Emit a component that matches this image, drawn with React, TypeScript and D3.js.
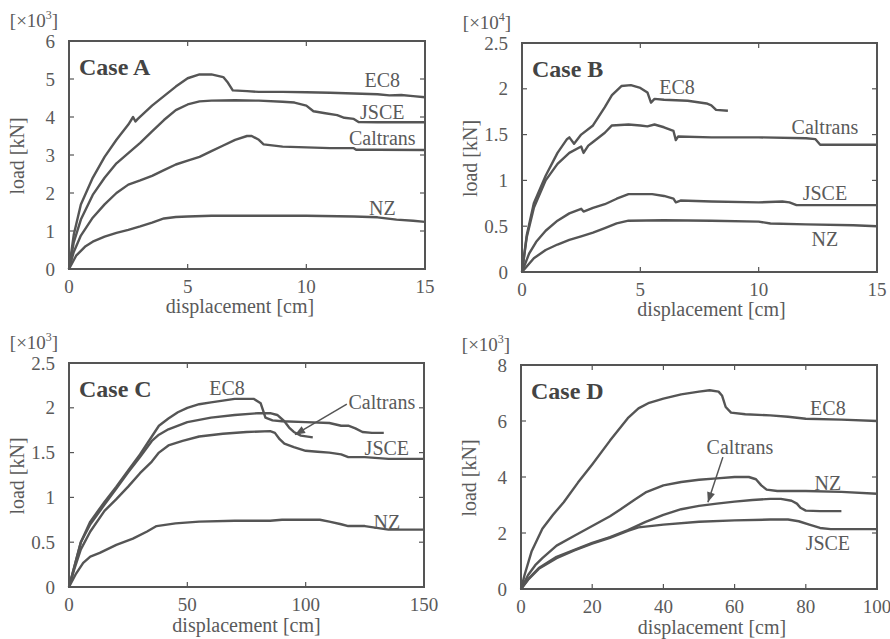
import React from "react";
import * as d3 from "d3";

type Pt = [number, number];

// ---- Case A (load x10^3 kN) ----
const caseA_EC8: Pt[] = [[0,0],[0.2,0.9],[0.5,1.7],[1,2.4],[1.5,2.95],[2,3.4],[2.5,3.8],[2.7,4.0],[2.8,3.88],[2.9,3.95],[3.5,4.3],[4,4.55],[4.5,4.8],[5,5.02],[5.5,5.12],[6,5.12],[6.5,5.05],[6.7,4.9],[6.9,4.7],[7.5,4.68],[8,4.66],[9,4.66],[10,4.65],[11,4.64],[12,4.62],[13,4.6],[13.5,4.57],[14,4.58],[14.5,4.55],[15,4.52]];
const caseA_JSCE: Pt[] = [[0,0],[0.2,0.7],[0.5,1.3],[1,1.95],[1.5,2.4],[2,2.78],[2.5,3.05],[3,3.32],[3.5,3.62],[4,3.92],[4.5,4.18],[5,4.33],[5.5,4.41],[6,4.43],[7,4.44],[8,4.43],[9,4.4],[9.5,4.38],[10,4.3],[10.3,4.15],[10.8,4.1],[11.3,4.05],[11.6,3.98],[12,3.95],[12.2,3.87],[13,3.86],[15,3.86]];
const caseA_Caltrans: Pt[] = [[0,0],[0.2,0.45],[0.5,0.88],[1,1.35],[1.5,1.7],[2,2.0],[2.5,2.22],[3,2.33],[3.5,2.45],[4,2.6],[4.5,2.75],[5,2.85],[5.5,2.95],[6,3.1],[6.5,3.25],[7,3.4],[7.5,3.5],[7.7,3.5],[8,3.4],[8.2,3.28],[9,3.22],[10,3.2],[11,3.18],[12,3.18],[12.1,3.14],[13,3.14],[15,3.13]];
const caseA_NZ: Pt[] = [[0,0],[0.3,0.35],[0.7,0.6],[1,0.72],[1.5,0.85],[2,0.95],[2.5,1.03],[3,1.12],[3.5,1.22],[4,1.33],[4.5,1.37],[5,1.38],[6,1.4],[7,1.4],[8,1.4],[10,1.4],[12,1.38],[13,1.36],[13.8,1.3],[14.5,1.27],[15,1.24]];

// ---- Case B (load x10^4 kN) ----
const caseB_EC8: Pt[] = [[0,0],[0.2,0.4],[0.5,0.75],[1,1.05],[1.5,1.3],[1.9,1.45],[2,1.47],[2.2,1.4],[2.5,1.5],[3,1.6],[3.5,1.8],[3.8,1.93],[4.2,2.03],[4.6,2.04],[5,2.01],[5.3,1.96],[5.45,1.85],[5.6,1.89],[6,1.88],[7,1.87],[7.8,1.84],[8.0,1.82],[8.2,1.77],[8.7,1.76]];
const caseB_Caltrans: Pt[] = [[0,0],[0.2,0.38],[0.5,0.7],[1,1.0],[1.5,1.18],[2,1.3],[2.5,1.37],[2.6,1.3],[2.8,1.38],[3,1.42],[3.5,1.52],[3.8,1.6],[4.5,1.61],[5,1.6],[5.3,1.59],[5.6,1.61],[6,1.58],[6.4,1.54],[6.5,1.44],[6.6,1.48],[8,1.47],[10,1.47],[12,1.46],[12.4,1.45],[12.6,1.39],[15,1.39]];
const caseB_JSCE: Pt[] = [[0,0],[0.3,0.2],[0.6,0.33],[1,0.45],[1.5,0.56],[2,0.64],[2.5,0.69],[2.6,0.66],[3,0.7],[3.5,0.74],[4,0.8],[4.5,0.85],[5.5,0.85],[6,0.83],[6.4,0.8],[6.5,0.76],[6.7,0.78],[8,0.77],[10,0.76],[11,0.77],[11.3,0.76],[11.6,0.73],[13,0.73],[15,0.73]];
const caseB_NZ: Pt[] = [[0,0],[0.5,0.15],[1,0.24],[1.5,0.3],[2,0.35],[2.5,0.39],[3,0.43],[3.5,0.48],[4,0.53],[4.5,0.56],[6,0.565],[8,0.56],[10,0.55],[10.5,0.53],[12,0.52],[14,0.51],[15,0.5]];

// ---- Case C (load x10^3 kN) ----
const caseC_EC8: Pt[] = [[0,0],[2,0.2],[5,0.5],[9,0.73],[15,0.95],[20,1.12],[25,1.3],[30,1.48],[35,1.68],[38,1.8],[42,1.88],[46,1.95],[50,2.0],[55,2.04],[60,2.06],[65,2.08],[70,2.1],[75,2.1],[78,2.1],[81,2.05],[82,1.97],[83,1.89],[86,1.86],[90,1.85],[100,1.84],[110,1.83],[115,1.8],[118,1.8],[121,1.77],[124,1.73],[128,1.72],[133,1.72]];
const caseC_Caltrans: Pt[] = [[0,0],[2,0.2],[5,0.5],[9,0.7],[15,0.92],[20,1.1],[25,1.28],[30,1.45],[35,1.63],[38,1.7],[42,1.76],[50,1.84],[60,1.89],[70,1.92],[80,1.94],[85,1.94],[88,1.92],[91,1.85],[93,1.78],[95,1.73],[98,1.69],[103,1.67]];
const caseC_JSCE: Pt[] = [[0,0],[2,0.18],[5,0.42],[9,0.62],[15,0.85],[20,0.98],[25,1.12],[30,1.27],[35,1.4],[38,1.5],[42,1.58],[48,1.63],[55,1.68],[65,1.71],[75,1.73],[85,1.74],[87,1.72],[89,1.65],[91,1.6],[95,1.56],[100,1.52],[105,1.51],[110,1.5],[115,1.48],[118,1.45],[125,1.45],[135,1.43],[140,1.43],[150,1.43]];
const caseC_NZ: Pt[] = [[0,0],[3,0.15],[6,0.27],[9,0.34],[13,0.38],[20,0.47],[27,0.54],[33,0.62],[37,0.68],[45,0.71],[55,0.73],[70,0.74],[80,0.74],[85,0.74],[90,0.75],[100,0.75],[106,0.75],[110,0.73],[115,0.7],[118,0.68],[125,0.68],[130,0.66],[135,0.64],[145,0.64],[150,0.64]];

// ---- Case D (load x10^3 kN) ----
const caseD_EC8: Pt[] = [[0,0],[1,0.5],[3,1.35],[6,2.15],[9,2.65],[12,3.1],[16,3.8],[20,4.45],[25,5.3],[30,6.1],[33,6.45],[36,6.65],[40,6.8],[45,6.95],[50,7.05],[53,7.1],[55.5,7.05],[56.5,6.9],[57.5,6.5],[59,6.3],[63,6.24],[70,6.2],[75,6.15],[80,6.08],[90,6.05],[100,6.0]];
const caseD_NZ: Pt[] = [[0,0],[2,0.5],[4,0.85],[6,1.1],[10,1.55],[15,1.9],[20,2.25],[25,2.6],[28,2.85],[32,3.2],[35,3.45],[40,3.7],[45,3.82],[50,3.9],[55,3.95],[60,4.0],[64,4.0],[66,3.92],[67.5,3.7],[69,3.55],[72,3.5],[80,3.5],[90,3.47],[100,3.4]];
const caseD_Caltrans: Pt[] = [[0,0],[2,0.35],[5,0.75],[10,1.15],[15,1.4],[20,1.65],[25,1.85],[30,2.1],[35,2.4],[40,2.65],[45,2.85],[50,2.97],[55,3.05],[60,3.12],[65,3.18],[70,3.22],[73,3.22],[76,3.15],[77.5,3.05],[78.5,2.9],[80,2.8],[84,2.78],[90,2.78]];
const caseD_JSCE: Pt[] = [[0,0],[2,0.33],[5,0.72],[10,1.1],[15,1.38],[20,1.62],[25,1.83],[30,2.08],[33,2.2],[40,2.3],[50,2.4],[60,2.45],[70,2.48],[75,2.48],[78,2.42],[81,2.3],[84,2.18],[87,2.14],[100,2.14]];

// ticks
const xTicksAB = [0, 5, 10, 15];
const xTicksC = [0, 50, 100, 150];
const xTicksD = [0, 20, 40, 60, 80, 100];
const yTicksA = [0, 1, 2, 3, 4, 5, 6];
const yTicksBC = [0, 0.5, 1, 1.5, 2, 2.5];
const yTicksD = [0, 2, 4, 6, 8];

const LINE = "#555";
const TEXT = "#5a5a5a";
const FONT = '"Liberation Serif", "Times New Roman", Times, "DejaVu Serif", serif';

type Label = { text: string; x: number; y: number };
type Arrow = { from: Pt; to: Pt };

type Panel = {
  name: string;
  exp: string;
  box: { l: number; t: number; r: number; b: number };
  xDomain: [number, number];
  yDomain: [number, number];
  xTicks: number[];
  yTicks: number[];
  series: Pt[][];
  labels: Label[];
  arrow?: Arrow;
  titleDx: number;
  titleDy: number;
};

const panels: Panel[] = [
  {
    name: "Case A", exp: "3",
    box: { l: 69, t: 41, r: 425, b: 269 },
    xDomain: [0, 15], yDomain: [0, 6], xTicks: xTicksAB, yTicks: yTicksA,
    series: [caseA_EC8, caseA_JSCE, caseA_Caltrans, caseA_NZ],
    labels: [
      { text: "EC8", x: 13.2, y: 4.97 },
      { text: "JSCE", x: 13.2, y: 4.13 },
      { text: "Caltrans", x: 13.2, y: 3.45 },
      { text: "NZ", x: 13.2, y: 1.6 },
    ],
    titleDx: -7, titleDy: 44,
  },
  {
    name: "Case B", exp: "4",
    box: { l: 522, t: 43, r: 877, b: 272 },
    xDomain: [0, 15], yDomain: [0, 2.5], xTicks: xTicksAB, yTicks: yTicksBC,
    series: [caseB_EC8, caseB_Caltrans, caseB_JSCE, caseB_NZ],
    labels: [
      { text: "EC8", x: 6.55, y: 2.02 },
      { text: "Caltrans", x: 12.8, y: 1.58 },
      { text: "JSCE", x: 12.8, y: 0.86 },
      { text: "NZ", x: 12.8, y: 0.36 },
    ],
    titleDx: 12, titleDy: 44,
  },
  {
    name: "Case C", exp: "3",
    box: { l: 69, t: 363, r: 424, b: 587 },
    xDomain: [0, 150], yDomain: [0, 2.5], xTicks: xTicksC, yTicks: yTicksBC,
    series: [caseC_EC8, caseC_Caltrans, caseC_JSCE, caseC_NZ],
    labels: [
      { text: "EC8", x: 66.8, y: 2.22 },
      { text: "Caltrans", x: 132.2, y: 2.06 },
      { text: "JSCE", x: 134.3, y: 1.55 },
      { text: "NZ", x: 134.3, y: 0.73 },
    ],
    arrow: { from: [117.4, 2.04], to: [95.5, 1.7] },
    titleDx: 0, titleDy: 45,
  },
  {
    name: "Case D", exp: "3",
    box: { l: 521, t: 365, r: 877, b: 589 },
    xDomain: [0, 100], yDomain: [0, 8], xTicks: xTicksD, yTicks: yTicksD,
    series: [caseD_EC8, caseD_NZ, caseD_Caltrans, caseD_JSCE],
    labels: [
      { text: "EC8", x: 86.2, y: 6.46 },
      { text: "Caltrans", x: 61.5, y: 5.07 },
      { text: "NZ", x: 86.2, y: 3.79 },
      { text: "JSCE", x: 86.2, y: 1.64 },
    ],
    arrow: { from: [56.7, 4.71], to: [52.5, 3.1] },
    titleDx: 13, titleDy: 45,
  },
];

const txt = (size: number, extra: React.CSSProperties = {}): React.CSSProperties => ({
  fontFamily: FONT,
  fontSize: size,
  fill: TEXT,
  ...extra,
});

function ChartPanel({ p, idx }: { p: Panel; idx: number }) {
  const { l, t, r, b } = p.box;
  const x = d3.scaleLinear().domain(p.xDomain).range([l, r]);
  const y = d3.scaleLinear().domain(p.yDomain).range([b, t]);
  const line = d3.line<Pt>().x((d) => x(d[0])).y((d) => y(d[1]));
  const tk = 5;
  const markerId = `arrow${idx}`;

  return (
    <g>
      <defs>
        <marker id={markerId} viewBox="0 0 10 10" refX="10" refY="5"
          markerWidth="14" markerHeight="10" markerUnits="userSpaceOnUse" orient="auto">
          <path d="M0,1 L10,5 L0,9 Z" fill={LINE} />
        </marker>
      </defs>
      {p.series.map((s, i) => (
        <path key={i} d={line(s) || ""} fill="none" stroke={LINE} strokeWidth={2.4}
          strokeLinejoin="round" />
      ))}
      <rect x={l} y={t} width={r - l} height={b - t} fill="none" stroke={LINE} strokeWidth={2} />
      {p.xTicks.map((v) => (
        <g key={"x" + v}>
          <line x1={x(v)} x2={x(v)} y1={b} y2={b - tk} stroke={LINE} strokeWidth={1.2} />
          <line x1={x(v)} x2={x(v)} y1={t} y2={t + tk} stroke={LINE} strokeWidth={1.2} />
          <text x={x(v)} y={b + 24} textAnchor="middle" style={txt(19)}>{v}</text>
        </g>
      ))}
      {p.yTicks.map((v) => (
        <g key={"y" + v}>
          <line x1={l} x2={l + tk} y1={y(v)} y2={y(v)} stroke={LINE} strokeWidth={1.2} />
          <line x1={r} x2={r - tk} y1={y(v)} y2={y(v)} stroke={LINE} strokeWidth={1.2} />
          <text x={l - 14} y={y(v)} dy="0.35em" textAnchor="end" style={txt(19)}>{v}</text>
        </g>
      ))}
      <text x={(l + r) / 2 + p.titleDx} y={b + p.titleDy} textAnchor="middle" style={txt(20)}>
        displacement [cm]
      </text>
      <text transform={`translate(${l - 52},${(t + b) / 2 + 1}) rotate(-90)`} dy="0.35em"
        textAnchor="middle" style={txt(20)}>
        load [kN]
      </text>
      <text x={l - 35} y={t - 14} textAnchor="middle" style={txt(19)}>
        [×10<tspan style={{ fontSize: 12 }} dy="-8">{p.exp}</tspan><tspan dy="8">]</tspan>
      </text>
      <text x={l + 10} y={t + 34} style={txt(24, { fontWeight: "bold", fill: "#444" })}>{p.name}</text>
      {p.labels.map((lb) => (
        <text key={lb.text} x={x(lb.x)} y={y(lb.y)} dy="0.35em" textAnchor="middle" style={txt(20)}>
          {lb.text}
        </text>
      ))}
      {p.arrow && (
        <line x1={x(p.arrow.from[0])} y1={y(p.arrow.from[1])} x2={x(p.arrow.to[0])} y2={y(p.arrow.to[1])}
          stroke={LINE} strokeWidth={1.5} markerEnd={`url(#${markerId})`} />
      )}
    </g>
  );
}

export default function App() {
  return (
    <svg width={890} height={639} style={{ position: "absolute", left: 0, top: 0, background: "#fff" }}>
      {panels.map((p, i) => (
        <ChartPanel key={p.name} p={p} idx={i} />
      ))}
    </svg>
  );
}
